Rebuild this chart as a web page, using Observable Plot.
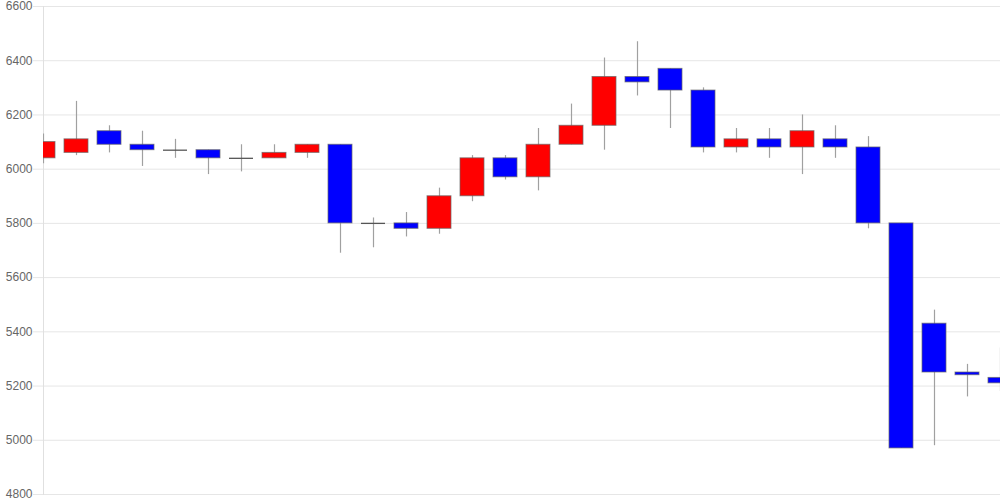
<!DOCTYPE html>
<html>
<head>
<meta charset="utf-8">
<script src="https://cdn.jsdelivr.net/npm/d3@7"></script>
<script src="https://cdn.jsdelivr.net/npm/@observablehq/plot@0.6"></script>
<style>
  html, body { margin: 0; padding: 0; background: #fff; }
  #chart svg { display: block; }
</style>
</head>
<body>
<div id="chart"></div>
<script>
const opens  = [6040,6060,6140,6090,6070,6070,6040,6040,6060,6090,5800,5800,5780,5900,6040,5970,6090,6160,6340,6370,6290,6080,6110,6080,6110,6080,5800,5430,5250,5230];
const closes = [6100,6110,6090,6070,6070,6040,6040,6060,6090,5800,5800,5780,5900,6040,5970,6090,6160,6340,6320,6290,6080,6110,6080,6140,6080,5800,4970,5250,5240,5210];
const highs  = [6130,6250,6160,6140,6110,6070,6090,6090,6090,6090,5820,5840,5930,6050,6050,6150,6240,6410,6470,6370,6300,6150,6150,6200,6160,6120,5800,5480,5280,5340];
const lows   = [6020,6050,6060,6010,6040,5980,5990,6040,6040,5690,5710,5750,5760,5880,5960,5920,6090,6070,6270,6150,6060,6060,6040,5980,6040,5780,4970,4980,5160,5180];
const yTicks = [4800,5000,5200,5400,5600,5800,6000,6200,6400,6600];

const data = opens.map((o, i) => ({i, open: o, close: closes[i], high: highs[i], low: lows[i]}));
const bodies = data.filter(d => d.open !== d.close);
const dojis = data.filter(d => d.open === d.close);

const chart = Plot.plot({
  width: 1000,
  height: 500,
  marginLeft: 43,
  marginRight: 0,
  marginTop: 6,
  marginBottom: 6,
  style: {fontFamily: "Liberation Sans, Arial, sans-serif", fontSize: "12px", background: "#fff"},
  x: {type: "band", domain: data.map(d => d.i), range: [26.5, 1016.5], paddingInner: 0.27, paddingOuter: 0.135, axis: null},
  y: {domain: [4800, 6600], ticks: yTicks, label: null},
  marks: [
    Plot.gridY(yTicks, {stroke: "#e6e6e6", strokeOpacity: 1}),
    Plot.axisY(yTicks, {tickSize: 10, tickPadding: 1, stroke: "#e6e6e6", fill: "#666", fontSize: 12, label: null, tickFormat: d => String(d)}),
    Plot.frame({anchor: "left", stroke: "#e0e0e0", strokeOpacity: 1}),
    Plot.ruleX(data, {x: "i", y1: "low", y2: "high", stroke: "#a0a0a0", strokeWidth: 1.2, clip: true}),
    Plot.barY(bodies, {x: "i", y1: "open", y2: "close", fill: d => d.close > d.open ? "#ff0000" : "#0000ff", stroke: "#666", strokeOpacity: 0.7, strokeWidth: 1, clip: true}),
    Plot.tickY(dojis, {x: "i", y: "open", stroke: "#555", strokeWidth: 1.3, clip: true})
  ]
});
document.getElementById("chart").appendChild(chart);
</script>
</body>
</html>
